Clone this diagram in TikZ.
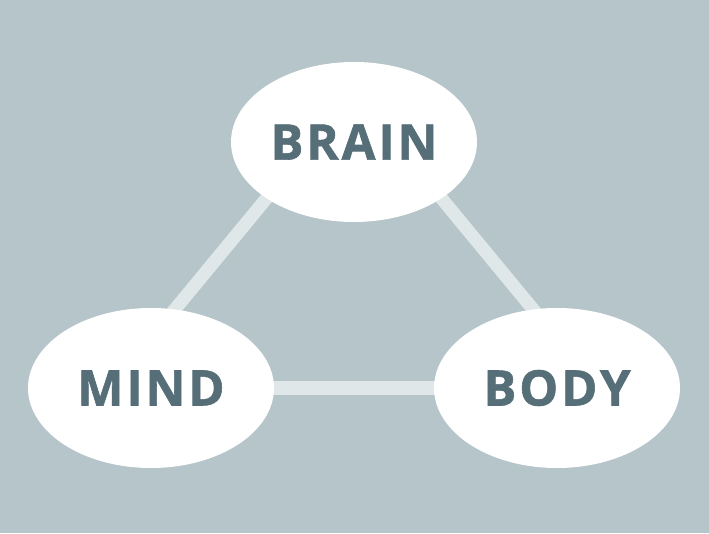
\documentclass[tikz,border=0pt]{standalone}
\usepackage{fontspec}
\setmainfont{Open Sans}
\usetikzlibrary{shapes.geometric,backgrounds}
\definecolor{fondo}{HTML}{B5C5CA}
\definecolor{texto}{HTML}{566E78}
\definecolor{enlace}{HTML}{E0E7E9}
\tikzset{
  burbuja/.style={ellipse, fill=white, minimum width=246pt, minimum height=160pt,
    inner sep=0pt, text=texto, font=\bfseries\addfontfeatures{LetterSpace=6,FakeBold=1.2}\fontsize{49}{49}\selectfont},
  enlace/.style={line width=13pt, color=enlace}
}
\begin{document}
\begin{tikzpicture}[x=1pt,y=1pt] % cerebro, mente y cuerpo
    \useasboundingbox (0,0) rectangle (709,533);

    \node[burbuja] (brain) at (354,391) {BRAIN};
    \node[burbuja] (mind) at (151,145) {MIND};
    \node[burbuja] (body) at (557,145) {BODY};

    \begin{scope}[on background layer]
        \fill[fondo] (0,0) rectangle (709,533);
        \draw[enlace] ([xshift=-41pt]brain.center) -- ([xshift=-41pt]mind.center);
        \draw[enlace] ([xshift=41pt]brain.center) -- ([xshift=41pt]body.center);
        \draw[enlace] (mind.center) -- (body.center);
    \end{scope}
\end{tikzpicture}
\end{document}
